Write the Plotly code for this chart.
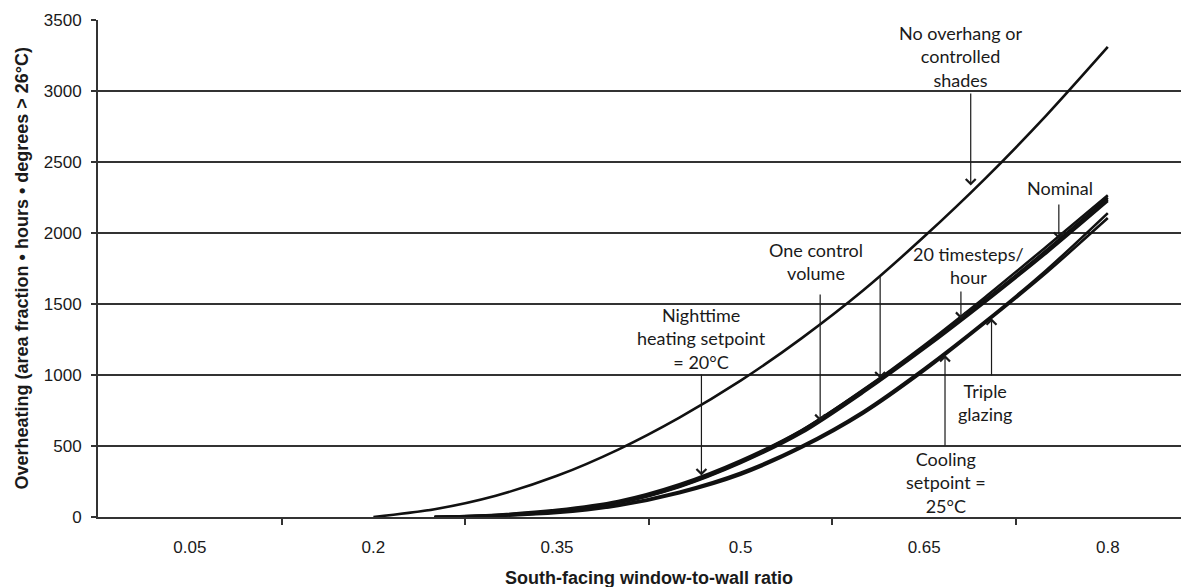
import plotly.graph_objects as go

# South-facing window-to-wall ratio (category steps of 0.05)
wwr_top = [0.20, 0.25, 0.30, 0.35, 0.40, 0.45, 0.50, 0.55, 0.60, 0.65, 0.70, 0.75, 0.80]
wwr = [0.25, 0.30, 0.35, 0.40, 0.45, 0.50, 0.55, 0.60, 0.65, 0.70, 0.75, 0.80]

# Overheating (area fraction * hours * degrees > 26 C) for each case
no_overhang = [0, 55, 150, 290, 475, 700, 960, 1260, 1595, 1975, 2385, 2830, 3310]
nominal = [0, 12, 42, 100, 215, 385, 600, 885, 1195, 1530, 1880, 2250]
timesteps_20 = [0, 14, 45, 105, 222, 392, 610, 895, 1210, 1550, 1905, 2265]
one_cv = [0, 10, 40, 98, 212, 380, 592, 875, 1185, 1515, 1860, 2225]
night_heat_20 = [0, 16, 50, 112, 230, 398, 612, 892, 1198, 1528, 1870, 2238]
triple_glazing = [0, 9, 33, 85, 178, 312, 500, 742, 1045, 1380, 1740, 2140]
cooling_25 = [0, 7, 28, 78, 168, 298, 488, 728, 1030, 1368, 1722, 2105]

x_tick_vals = [0.05, 0.20, 0.35, 0.50, 0.65, 0.80]
x_tick_text = ["0.05", "0.2", "0.35", "0.5", "0.65", "0.8"]
x_sep_ticks = [0.125, 0.275, 0.425, 0.575, 0.725]
y_tick_vals = [0, 500, 1000, 1500, 2000, 2500, 3000, 3500]

series = [
    ("No overhang or controlled shades", wwr_top, no_overhang),
    ("Nominal", wwr, nominal),
    ("20 timesteps/hour", wwr, timesteps_20),
    ("One control volume", wwr, one_cv),
    ("Nighttime heating setpoint = 20°C", wwr, night_heat_20),
    ("Triple glazing", wwr, triple_glazing),
    ("Cooling setpoint = 25°C", wwr, cooling_25),
]

fig = go.Figure()
for name, xs, vals in series:
    fig.add_trace(go.Scatter(
        x=xs, y=vals, name=name, mode="lines",
        line=dict(color="#111111", width=2.6, shape="spline", smoothing=0.8),
        showlegend=False,
    ))

# Callout labels: (text, text_x, text_y)
labels = [
    ("No overhang or<br>controlled<br>shades", 0.680, 3246),
    ("Nominal", 0.761, 2317),
    ("One control<br>volume", 0.562, 1796),
    ("20 timesteps/<br>hour", 0.686, 1768),
    ("Nighttime<br>heating setpoint<br>= 20°C", 0.468, 1254),
    ("Triple<br>glazing", 0.700, 803),
    ("Cooling<br>setpoint =<br>25°C", 0.668, 246),
]
# Pointer arrows: (tail_x, tail_y, tip_x, tip_y)
pointers = [
    (0.688, 2993, 0.688, 2335),
    (0.760, 2211, 0.760, 1958),
    (0.565, 1577, 0.565, 675),
    (0.614, 1704, 0.614, 975),
    (0.680, 1599, 0.680, 1395),
    (0.468, 1014, 0.468, 292),
    (0.705, 986, 0.705, 1400),
    (0.667, 493, 0.667, 1141),
]

annotations = []
for text, tx, ty in labels:
    annotations.append(dict(
        x=tx, y=ty, xref="x", yref="y", text=text, showarrow=False,
        xanchor="center", yanchor="middle",
        font=dict(family="Lato, Carlito, sans-serif", size=18, color="#1a1a1a"),
        align="center",
    ))
for ax_, ay_, hx, hy in pointers:
    annotations.append(dict(
        x=hx, y=hy, ax=ax_, ay=ay_, xref="x", yref="y", axref="x", ayref="y",
        text="", showarrow=True, arrowhead=4, arrowsize=1.6, arrowwidth=1.2,
        arrowcolor="#1a1a1a", standoff=0, startstandoff=0,
    ))

# Axis titles
annotations.append(dict(
    x=0.5088, y=-0.1227, xref="paper", yref="paper",
    xanchor="center", yanchor="middle",
    text="<b>South-facing window-to-wall ratio</b>", showarrow=False,
    font=dict(family="Liberation Sans, Arial, sans-serif", size=18, color="#1a1a1a"),
))
annotations.append(dict(
    x=-0.0702, y=0.5, xref="paper", yref="paper", textangle=-90,
    xanchor="center", yanchor="middle",
    text="<b>Overheating (area fraction • hours • degrees > 26°C)</b>", showarrow=False,
    font=dict(family="Liberation Sans, Arial, sans-serif", size=18, color="#1a1a1a"),
))

fig.update_layout(
    width=1181, height=587,
    margin=dict(l=98, r=0, t=20, b=70, autoexpand=False),
    paper_bgcolor="white", plot_bgcolor="white",
    annotations=annotations,
    xaxis=dict(
        range=[-0.025, 0.8598], tickmode="array", tickvals=x_tick_vals,
        ticktext=x_tick_text, ticks="", showgrid=False, zeroline=False,
        showline=True, linecolor="#333333", linewidth=2,
        tickfont=dict(family="Liberation Sans, Arial, sans-serif", size=17, color="#1a1a1a"),
        ticklabelstandoff=14,
        minor=dict(tickmode="array", tickvals=x_sep_ticks, ticks="outside",
                   ticklen=6, tickwidth=2, tickcolor="#333333", showgrid=False),
    ),
    yaxis=dict(
        range=[0, 3500], tickmode="array", tickvals=y_tick_vals,
        ticks="outside", ticklen=5, tickwidth=2, tickcolor="#333333",
        showgrid=True, gridcolor="#333333", gridwidth=1.8, zeroline=False,
        showline=True, linecolor="#333333", linewidth=2,
        tickfont=dict(family="Liberation Sans, Arial, sans-serif", size=17, color="#1a1a1a"),
        ticklabelstandoff=6,
    ),
)

fig.write_html("out.html")
